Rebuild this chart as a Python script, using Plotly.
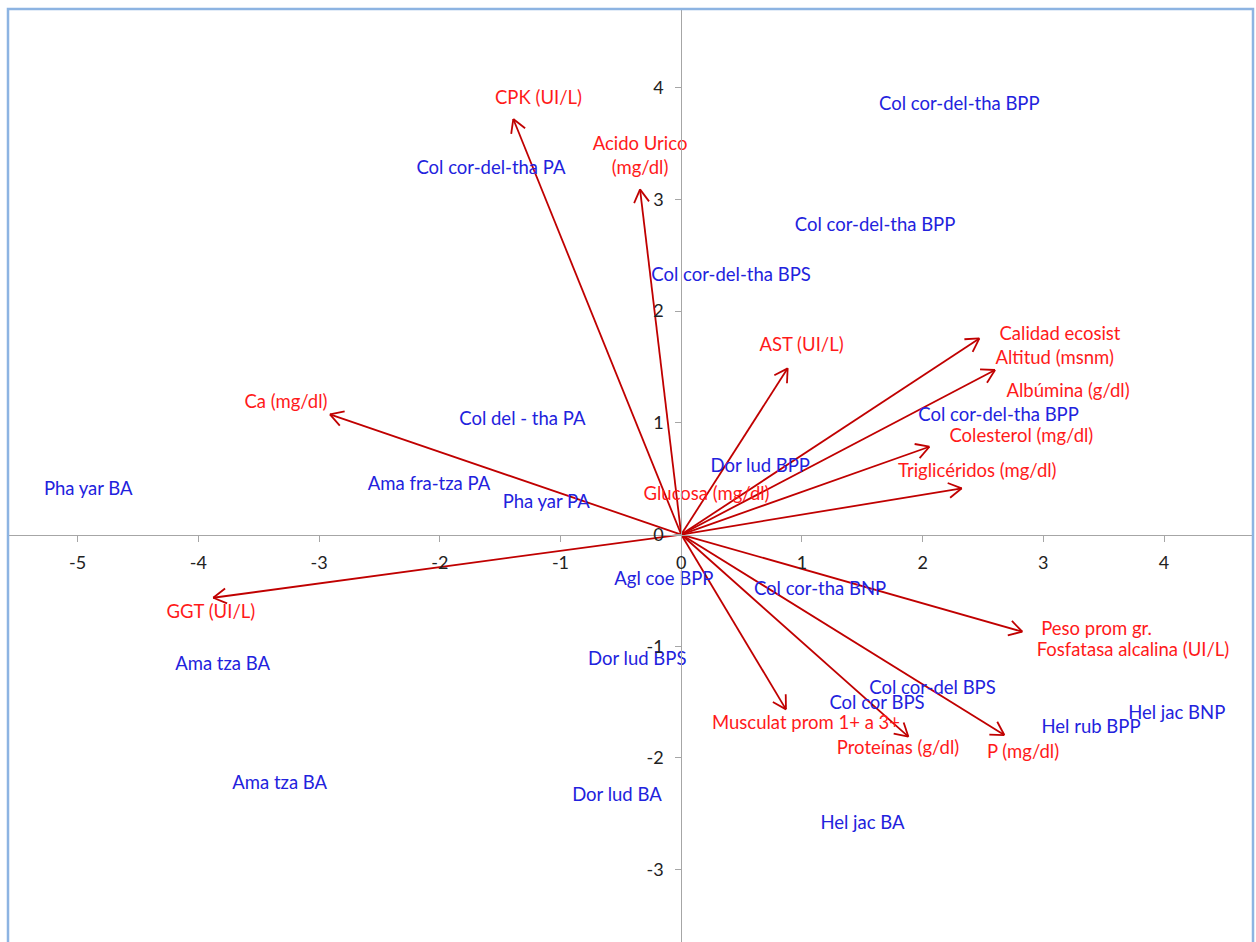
import math
import plotly.graph_objects as go

# ---- Sites (sample scores) ----
site_names = [
    "Col cor-del-tha BPP", "Col cor-del-tha PA", "Col cor-del-tha BPP", "Col cor-del-tha BPS",
    "Col del - tha PA", "Col cor-del-tha BPP", "Dor lud BPP", "Ama fra-tza PA", "Pha yar PA",
    "Pha yar BA", "Agl coe BPP", "Col cor-tha BNP", "Dor lud BPS", "Ama tza BA",
    "Col cor-del BPS", "Col cor BPS", "Hel jac BNP", "Hel rub BPP", "Ama tza BA",
    "Dor lud BA", "Hel jac BA",
]
site_x = [2.304, -1.576, 1.606, 0.413, -1.316, 2.629, 0.655, -2.089, -1.118, -4.912, -0.144,
          1.150, -0.364, -3.799, 2.082, 1.622, 4.105, 3.395, -3.326, -0.532, 1.502]
site_y = [3.845, 3.269, 2.756, 2.314, 1.025, 1.055, 0.598, 0.443, 0.279, 0.398, -0.407,
          -0.497, -1.130, -1.175, -1.383, -1.517, -1.607, -1.735, -2.234, -2.347, -2.592]

# ---- Variables (loading vectors) ----
var_names = ["CPK (UI/L)", "Acido Urico (mg/dl)", "Ca (mg/dl)", "GGT (UI/L)", "AST (UI/L)",
             "Calidad ecosist", "Altitud (msnm)", "Colesterol (mg/dl)", "Triglicéridos (mg/dl)",
             "Peso prom gr.", "P (mg/dl)", "Proteínas (g/dl)", "Musculat prom 1+ a 3+"]
var_x = [-1.391, -0.341, -2.910, -3.877, 0.882, 2.470, 2.600, 2.056, 2.324, 2.826, 2.677, 1.882, 0.868]
var_y = [3.720, 3.090, 1.076, -0.566, 1.488, 1.756, 1.473, 0.786, 0.414, -0.870, -1.795, -1.810, -1.565]

# ---- Variable labels ----
var_labels = ["CPK (UI/L)", "Acido Urico<br>(mg/dl)", "Ca (mg/dl)", "GGT (UI/L)", "AST (UI/L)",
              "Calidad ecosist", "Altitud (msnm)", "Albúmina (g/dl)", "Colesterol (mg/dl)",
              "Triglicéridos (mg/dl)", "Peso prom gr.", "Fosfatasa alcalina (UI/L)", "P (mg/dl)",
              "Proteínas (g/dl)", "Musculat prom 1+ a 3+", "Glucosa (mg/dl)"]
var_label_x = [-1.182, -0.341, -3.274, -3.896, 0.997, 3.138, 3.094, 3.205, 2.818, 2.453,
               3.441, 3.743, 2.832, 1.796, 1.034, 0.210]
var_label_y = [3.899, 3.380, 1.175, -0.705, 1.681, 1.780, 1.571, 1.269, 0.873, 0.553,
               -0.855, -1.049, -1.956, -1.920, -1.697, 0.354]

x_ticks = [-5, -4, -3, -2, -1, 0, 1, 2, 3, 4]
y_ticks = [-3, -2, -1, 0, 1, 2, 3, 4]

# ---- Layout geometry ----
W, H = 1256, 942
M_L, M_R, M_T, M_B = 8, 3, 9, 0
X_RANGE = [-5.577, 4.737]
Y_RANGE = [-3.648, 4.705]
plot_w = W - M_L - M_R
plot_h = H - M_T - M_B
sx = plot_w / (X_RANGE[1] - X_RANGE[0])
sy = plot_h / (Y_RANGE[1] - Y_RANGE[0])

FONT = "Lato, 'Open Sans', sans-serif"
LABEL_SIZE = 18.5
ARROW_COLOR = "#C00000"
HEAD_LEN = 15      # px
HEAD_ANGLE = 30    # degrees

# Build shafts and open arrowheads as one polyline trace
ax_pts, ay_pts = [], []
for x, y in zip(var_x, var_y):
    ax_pts += [0, x, None]
    ay_pts += [0, y, None]
    ang = math.atan2(y * sy, x * sx)
    for s in (1, -1):
        a = ang + math.pi + s * math.radians(HEAD_ANGLE)
        wx = x + HEAD_LEN * math.cos(a) / sx
        wy = y + HEAD_LEN * math.sin(a) / sy
        ax_pts += [x, wx, None]
        ay_pts += [y, wy, None]

fig = go.Figure()
fig.add_trace(go.Scatter(
    x=ax_pts, y=ay_pts, mode="lines",
    line=dict(color=ARROW_COLOR, width=1.8),
    hoverinfo="skip", showlegend=False,
))
fig.add_trace(go.Scatter(
    x=site_x, y=site_y, mode="text", text=site_names,
    textposition="middle center",
    textfont=dict(family=FONT, size=LABEL_SIZE, color="#2222DD"),
    showlegend=False,
))
fig.add_trace(go.Scatter(
    x=var_label_x, y=var_label_y, mode="text", text=var_labels,
    textposition="middle center",
    textfont=dict(family=FONT, size=LABEL_SIZE, color="#FF1A1A"),
    showlegend=False,
))

x_pos = (0 - Y_RANGE[0]) / (Y_RANGE[1] - Y_RANGE[0])
y_pos = (0 - X_RANGE[0]) / (X_RANGE[1] - X_RANGE[0])

axis_common = dict(
    showgrid=False, zeroline=False, showline=True, linecolor="#A6A6A6", linewidth=1,
    ticks="outside", ticklen=6, tickcolor="#A6A6A6", tickwidth=1,
    tickfont=dict(family=FONT, size=18, color="#222222"),
    anchor="free", fixedrange=True,
)
fig.update_layout(
    width=W, height=H,
    margin=dict(l=M_L, r=M_R, t=M_T, b=M_B),
    paper_bgcolor="white", plot_bgcolor="white",
    xaxis=dict(range=X_RANGE, tickvals=x_ticks, ticktext=[str(v) for v in x_ticks],
               position=x_pos, side="bottom", ticklabelstandoff=6, **axis_common),
    yaxis=dict(range=Y_RANGE, tickvals=y_ticks, ticktext=[str(v) for v in y_ticks],
               position=y_pos, side="left", ticklabelstandoff=8, **axis_common),
    shapes=[dict(type="path", xref="paper", yref="paper",
                 path="M 0,0 L 0,1 L 1,1 L 1,0",
                 line=dict(color="#8DB4E2", width=2.5), layer="above")],
    showlegend=False,
)

fig.write_html("out.html")
